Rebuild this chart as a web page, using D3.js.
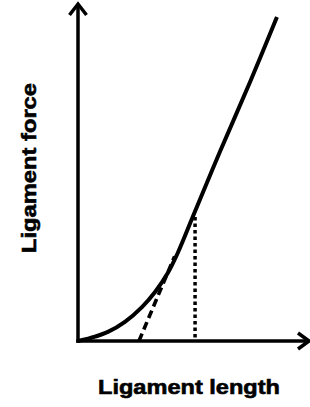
<!DOCTYPE html>
<html>
<head>
<meta charset="utf-8">
<script src="https://cdn.jsdelivr.net/npm/d3@7"></script>
<style>
  html, body { margin: 0; padding: 0; background: #fff; }
  svg { display: block; }
</style>
</head>
<body>
<div id="chart"></div>
<script>
// Données (unités arbitraires 0-100)
const lengthValues = [0, 7.4, 13.0, 20.4, 27.8, 33.5, 39.1, 43.5, 50.0, 61.7, 74.8, 86.5];
const forceValues  = [0, 1.3, 2.7, 5.7, 10.1, 14.6, 20.3, 26.4, 37.1, 56.3, 77.1, 96.4];

// Tangente à la partie linéaire
const tangentLength = [26.5, 42.0];
const tangentForce  = [0, 25.2];

// Repère vertical (pointillés)
const markerLength = [50.9, 50.9];
const markerForce  = [0, 36.9];

const xLabel = "Ligament length";
const yLabel = "Ligament force";

const width = 310;
const height = 407;

const svg = d3.select('#chart').append('svg')
  .attr('width', width)
  .attr('height', height);

const x = d3.scaleLinear().domain([0, 100]).range([78, 308]);
const y = d3.scaleLinear().domain([0, 100]).range([341, 5]);

const line = d3.line()
  .x(d => x(d[0]))
  .y(d => y(d[1]));

// Axes
const x0 = x(0), y0 = y(0);
svg.append('line')
  .attr('x1', x0).attr('y1', y0 + 1.8)
  .attr('x2', x0).attr('y2', y.range()[1] - 1)
  .attr('stroke', '#000').attr('stroke-width', 3.5);
svg.append('line')
  .attr('x1', x0 - 1.8).attr('y1', y0)
  .attr('x2', x.range()[1] + 1).attr('y2', y0)
  .attr('stroke', '#000').attr('stroke-width', 3.5);

// Flèches
const yTip = y.range()[1] - 1;
svg.append('path')
  .attr('d', `M${x0 - 8.5},${yTip + 11}L${x0},${yTip}L${x0 + 8.5},${yTip + 11}`)
  .attr('fill', 'none').attr('stroke', '#000').attr('stroke-width', 3.5);
const xTip = x.range()[1] + 1;
svg.append('path')
  .attr('d', `M${xTip - 11},${y0 - 8}L${xTip},${y0}L${xTip - 11},${y0 + 8}`)
  .attr('fill', 'none').attr('stroke', '#000').attr('stroke-width', 3.5);

// Courbe force-longueur
svg.append('path')
  .datum(d3.zip(lengthValues, forceValues))
  .attr('d', line.curve(d3.curveCatmullRom.alpha(0.5)))
  .attr('fill', 'none')
  .attr('stroke', '#000')
  .attr('stroke-width', 4);

// Tangente en tirets
svg.append('path')
  .datum(d3.zip(tangentLength, tangentForce))
  .attr('d', line.curve(d3.curveLinear))
  .attr('fill', 'none')
  .attr('stroke', '#000')
  .attr('stroke-width', 3.6)
  .attr('stroke-dasharray', '8,4.5');

// Ligne pointillée
svg.append('path')
  .datum(d3.zip(markerLength, markerForce).reverse())
  .attr('d', line.curve(d3.curveLinear))
  .attr('fill', 'none')
  .attr('stroke', '#000')
  .attr('stroke-width', 3.5)
  .attr('stroke-dasharray', '3.5,3');

// Libellés
svg.append('text')
  .attr('x', 189)
  .attr('y', 394)
  .attr('text-anchor', 'middle')
  .attr('textLength', 182)
  .attr('lengthAdjust', 'spacingAndGlyphs')
  .style('font-family', '"Liberation Sans", Arial, sans-serif')
  .style('font-weight', 'bold')
  .style('font-size', '20.5px')
  .style('stroke', '#000')
  .style('stroke-width', 0.6)
  .text(xLabel);

svg.append('text')
  .attr('transform', 'translate(35.5,168) rotate(-90)')
  .attr('text-anchor', 'middle')
  .attr('textLength', 170)
  .attr('lengthAdjust', 'spacingAndGlyphs')
  .style('font-family', '"Liberation Sans", Arial, sans-serif')
  .style('font-weight', 'bold')
  .style('font-size', '20.5px')
  .style('stroke', '#000')
  .style('stroke-width', 0.6)
  .text(yLabel);
</script>
</body>
</html>
